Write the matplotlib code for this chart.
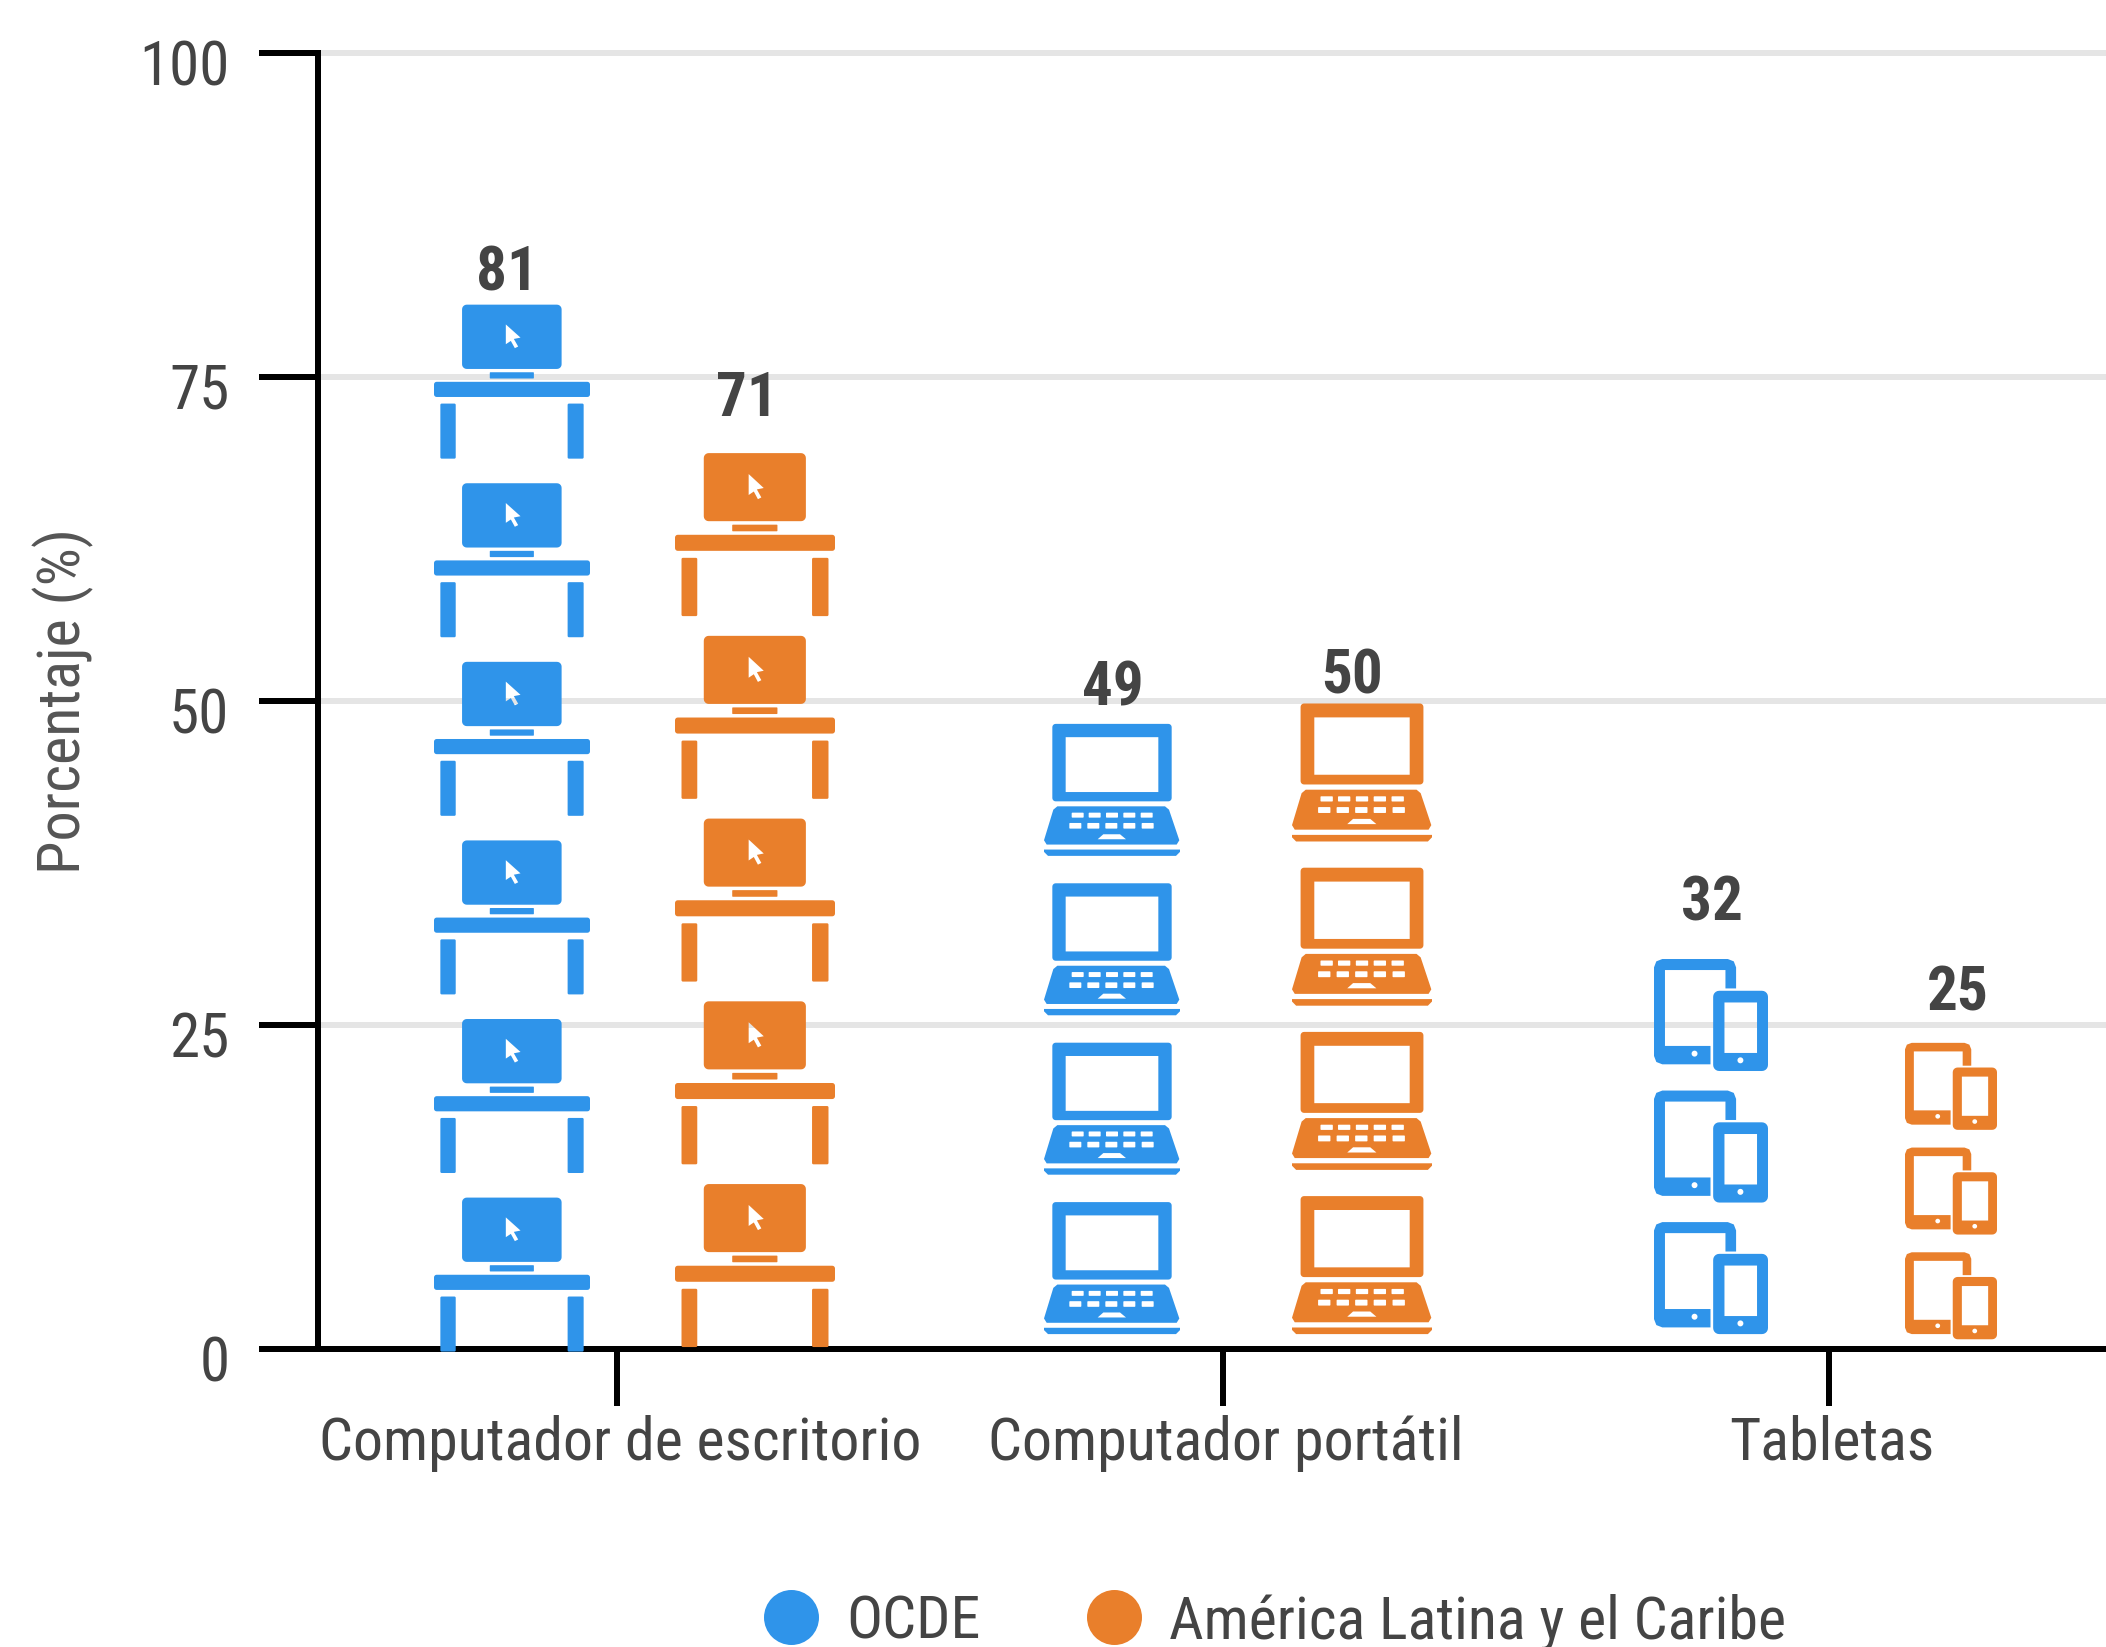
import numpy as np
import matplotlib
matplotlib.use("Agg")
import matplotlib.pyplot as plt
from matplotlib.path import Path
from matplotlib.patches import PathPatch
from matplotlib.lines import Line2D
from matplotlib.transforms import Affine2D, ScaledTranslation

# ---------- data ----------
categories = ["Computador de escritorio", "Computador portátil", "Tabletas"]
series_names = ["OCDE", "América Latina y el Caribe"]
ocde_values = [81, 49, 32]
alc_values = [71, 50, 25]
ocde_icon_counts = [6, 4, 3]
alc_icon_counts = [5, 4, 3]
y_ticks = [0, 25, 50, 75, 100]
y_label = "Porcentaje (%)"

# ---------- style ----------
BLUE, ORANGE = "#2F94EA", "#E97F2B"
TEXT = "#444444"
FONT = ["Roboto Condensed", "Liberation Sans Narrow", "Roboto"]
plt.rcParams["font.family"] = FONT
W, H, DPI = 2106, 1647, 100
PT = 72 / DPI

# icon geometry per (series, category): x offset from tick, width (x units),
# height, base, pitch (y units)
PX = 1 / 606.0
UY = 1 / 12.96
ICON_STYLE = {
    (0, 0): (-105 * PX, 156 * PX, 154 * UY, -0.2, 13.78),
    (1, 0): (138 * PX, 160 * PX, 163 * UY, 0.15, 14.1),
    (0, 1): (-111 * PX, 136 * PX, 132 * UY, 1.15, 12.3),
    (1, 1): (139 * PX, 140 * PX, 138 * UY, 1.15, 12.67),
    (0, 2): (-118 * PX, 114 * PX, 112 * UY, 1.15, 10.15),
    (1, 2): (122 * PX, 92 * PX, 87 * UY, 0.75, 8.08),
}
LABEL_DX = {(0, 0): -110, (1, 0): 130, (0, 1): -110, (1, 1): 129, (0, 2): -117, (1, 2): 129}
LABEL_DY = {(0, 0): 2.0, (1, 0): 2.3, (0, 1): 2.0, (1, 1): 1.9, (0, 2): 2.4, (1, 2): 2.4}


# ---------- icon shapes, normalised to the unit box ----------
def rrect(x0, y0, x1, y1, r, n=6):
    pts = []
    for cx, cy, a0 in [(x1 - r, y0 + r, -90), (x1 - r, y1 - r, 0), (x0 + r, y1 - r, 90), (x0 + r, y0 + r, 180)]:
        for a in np.radians(np.linspace(a0, a0 + 90, n)):
            pts.append((cx + r * np.cos(a), cy + r * np.sin(a)))
    return pts


def circle(cx, cy, r, n=16):
    return [(cx + r * np.cos(a), cy + r * np.sin(a)) for a in np.linspace(0, 2 * np.pi, n, endpoint=False)]


def build(polys, holes, box):
    x0, y0, x1, y1 = box  # y downwards, zoom pixels
    paths = []
    for pts, is_hole in [(p, False) for p in polys] + [(p, True) for p in holes]:
        a = np.array(pts, float)
        a = np.column_stack([(a[:, 0] - x0) / (x1 - x0), (y1 - a[:, 1]) / (y1 - y0)])
        area = 0.5 * np.sum(a[:, 0] * np.roll(a[:, 1], -1) - np.roll(a[:, 0], -1) * a[:, 1])
        if (area > 0) == is_hole:
            a = a[::-1]
        paths.append(Path(np.vstack([a, a[0]]), closed=True))
    return Path.make_compound_path(*paths)


DESKTOP = build(
    [rrect(187, 138, 485, 333, 14), rrect(270, 343, 402, 362, 2), rrect(103, 372, 570, 418, 8),
     rrect(122, 438, 168, 605, 4), rrect(503, 438, 551, 605, 4)],
    [[(318, 198), (318, 258), (333, 248), (345, 270), (355, 265), (342, 242), (362, 238)]],
    (103, 138, 570, 605),
)

keys = []
for xs, (ya, yb) in [([155, 206, 258, 310, 362], (332, 347)), ([148, 202, 256, 310, 365], (363, 380))]:
    for kx in xs:
        keys.append(rrect(kx, ya, kx + 36, yb, 2, 3))
LAPTOP = build(
    [rrect(97, 65, 455, 298, 10),
     [(112, 313), (435, 313), (447, 323), (478, 415), (470, 428), (80, 428), (72, 415), (100, 323)],
     [(72, 443), (480, 443), (480, 450), (468, 462), (84, 462), (72, 450)]],
    [[(137, 105), (415, 105), (415, 270), (137, 270)],
     [(250, 397), (300, 397), (318, 412), (233, 412)]] + keys,
    (72, 65, 480, 462),
)

TABLET = build(
    [[(245, 382), (100, 382), (82, 375), (75, 357), (75, 92), (82, 74), (100, 67), (297, 67), (315, 74),
      (322, 92), (322, 155), (290, 155), (290, 100), (108, 100), (108, 327), (245, 327)],
     rrect(253, 162, 418, 402, 18)],
    [circle(197, 350, 9), [(287, 197), (385, 197), (385, 348), (287, 348)], circle(335, 370, 9)],
    (75, 67, 418, 402),
)
ICONS = [DESKTOP, LAPTOP, TABLET]

# ---------- figure ----------
fig = plt.figure(figsize=(W / DPI, H / DPI), dpi=DPI, facecolor="white")
ax = fig.add_axes([317.5 / W, 1 - 1349 / H, (W - 317.5) / W, (1349 - 53) / H])
ax.set_xlim(-299.5 * PX, 1489 * PX)
ax.set_ylim(0, 100)
for s in ["top", "right"]:
    ax.spines[s].set_visible(False)
for s in ["left", "bottom"]:
    ax.spines[s].set_linewidth(6 * PT)
    ax.spines[s].set_color("black")

ax.set_axisbelow(True)
ax.yaxis.grid(True, color="#E5E5E5", linewidth=6 * PT)
for gl in ax.get_ygridlines():
    gl.set_clip_on(False)

ax.set_yticks(y_ticks)
ax.set_xticks(range(len(categories)))
ax.set_xticklabels(categories)
ax.tick_params(axis="y", length=59 * PT, width=6 * PT, pad=29 * PT, labelsize=44, labelcolor=TEXT)
ax.tick_params(axis="x", length=57 * PT, width=6 * PT, pad=9 * PT, labelsize=43.2, labelcolor=TEXT)
shift = ScaledTranslation(0, -9 / DPI, fig.dpi_scale_trans)
for lab in ax.get_yticklabels():
    lab.set_transform(lab.get_transform() + shift)
xshift = ScaledTranslation(3 / DPI, 0, fig.dpi_scale_trans)
for lab in ax.get_xticklabels():
    lab.set_transform(lab.get_transform() + xshift)

fig.text(63 / W, 1 - 701 / H, y_label, rotation=90, ha="center", va="center", fontsize=43.5, color="#555555")

# ---------- icons and value labels ----------
for si, (vals, counts, col) in enumerate([(ocde_values, ocde_icon_counts, BLUE), (alc_values, alc_icon_counts, ORANGE)]):
    for ci, (val, cnt) in enumerate(zip(vals, counts)):
        dx, w, h, base, pitch = ICON_STYLE[(si, ci)]
        for k in range(cnt):
            tr = Affine2D().scale(w, h).translate(ci + dx - w / 2, base + k * pitch) + ax.transData
            ax.add_patch(PathPatch(ICONS[ci], facecolor=col, edgecolor="none", transform=tr, zorder=3, clip_on=False))
        ax.text(ci + LABEL_DX[(si, ci)] * PX, val + LABEL_DY[(si, ci)], str(val), ha="center", va="center",
                fontsize=44, fontweight="bold", color=TEXT, zorder=4)

# ---------- legend ----------
handles = [Line2D([], [], linestyle="none", marker="o", markersize=55 * PT, color=c, markeredgewidth=0)
           for c in (BLUE, ORANGE)]
fig.legend(handles, series_names, loc="center left", bbox_to_anchor=(761 / W, 1 - 1622 / H), ncol=2, frameon=False,
           fontsize=43.2, labelcolor=TEXT, handletextpad=0.42, columnspacing=1.72, handlelength=1.0,
           borderpad=0, borderaxespad=0)

fig.savefig("out.png", dpi=DPI, facecolor="white")
